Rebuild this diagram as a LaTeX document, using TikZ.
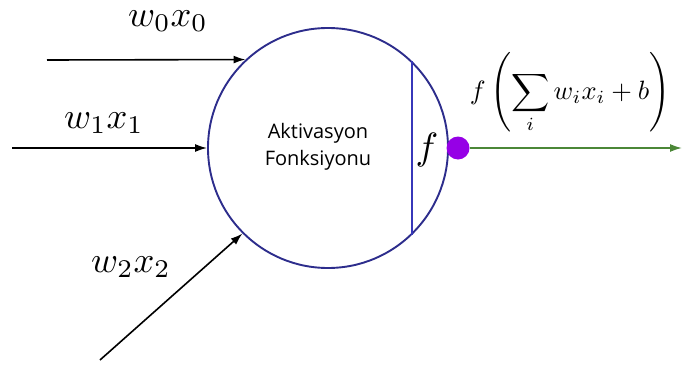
\documentclass[tikz,border=0pt]{standalone}
\usepackage{amsmath}
\usepackage{fontspec}
\newfontfamily\aktfont{Open Sans}
\usetikzlibrary{arrows.meta, positioning, calc}
\definecolor{kreisblau}{RGB}{45,45,140}
\definecolor{linieblau}{RGB}{55,55,185}
\definecolor{punktlila}{RGB}{150,0,230}
\definecolor{ausgruen}{RGB}{75,135,55}
\tikzset{>=Latex}

\begin{document}
\begin{tikzpicture}[x=1pt, y=-1pt, >={Latex[length=12pt,width=8pt]},
    eingabe/.style={->, line width=1.6pt},
    gewicht/.style={scale=3.65, inner sep=0pt}]
\useasboundingbox (0,0) rectangle (682,369);

            % Neuron als Kreis
            \node[circle, draw=kreisblau, line width=1.9pt, minimum size=240pt, inner sep=0pt] (neuron) at (328,148) {};
            \node[font=\aktfont\fontsize{20}{27}\selectfont, align=center] (akt) at (318,147) {Aktivasyon\\Fonksiyonu};

            % Trennlinie mit f
            \draw[linieblau, line width=1.6pt] (neuron.46) -- (neuron.-46);
            \node[scale=3.8] (fkt) at (427,150) {$f$};

            % Eingaenge mit Gewichten
            \coordinate (in0) at (47,60);
            \coordinate (in1) at (12,148);
            \coordinate (in2) at (100,360);
            \draw[eingabe] (in0) -- (neuron.133);
            \draw[eingabe] (in1) -- (neuron.west);
            \draw[eingabe] (in2) -- (neuron.225);
            \node[gewicht] (w0) at (168,21) {$w_0x_0$};
            \node[gewicht] (w1) at (104,123) {$w_1x_1$};
            \node[gewicht] (w2) at (131,267) {$w_2x_2$};

            % Ausgang als Punkt
            \node[circle, fill=punktlila, minimum size=23pt, inner sep=0pt] (punkt) at (458,148) {};
            \coordinate (aus) at (682,148);
            \draw[->, ausgruen, line width=1.6pt] (punkt.east) -- (aus);
            \node[scale=2.65] (formel) at (570,93) {$f\left(\displaystyle\sum_i w_ix_i+b\right)$};

\end{tikzpicture}
\end{document}
